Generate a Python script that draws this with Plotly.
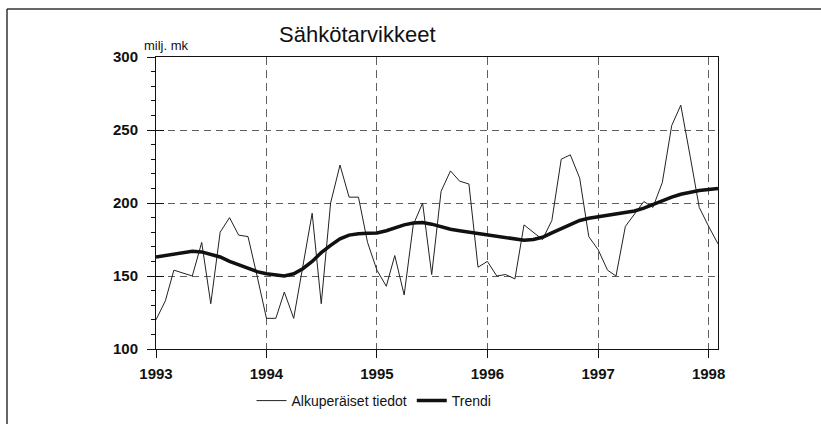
import pandas as pd
import plotly.graph_objects as go

# ---- data (monthly, Jan 1993 - Feb 1998) ----
months = pd.date_range("1993-01-01", periods=62, freq="MS")

original = [
    120, 133, 154, 152, 150, 173, 131, 180, 190, 178, 177, 150,   # 1993
    121, 121, 139, 121, 157, 193, 131, 200, 226, 204, 204, 173,   # 1994
    154, 143, 164, 137, 185, 200, 151, 208, 222, 215, 213, 156,   # 1995
    160, 150, 151, 148, 185, 180, 175, 188, 230, 233, 217, 177,   # 1996
    168, 154, 150, 184, 192, 201, 197, 214, 253, 267, 232, 197,   # 1997
    184, 172,                                                     # 1998
]

trend = [
    163, 164, 165.5, 166.5, 167, 166.5, 165, 163, 160, 157.5, 155, 153,
    151.5, 150.5, 150, 151.5, 155, 160, 166, 171, 175.5, 178, 179, 179.2,
    179.5, 181, 183, 185, 186.3, 186.6, 185.5, 183.5, 182, 181, 180, 179,
    178.4, 177.3, 176.1, 175, 174.5, 175, 176.5, 179.5, 182.5, 185, 188, 189.5,
    190.5, 191.5, 192.3, 193, 194.5, 196.5, 199, 201.5, 204, 206, 207.5, 208.5,
    209.3, 210,
]

series_names = ["Alkuperäiset tiedot", "Trendi"]
title_text = "Sähkötarvikkeet"
unit_text = "milj. mk"
year_ticks = ["1993", "1994", "1995", "1996", "1997", "1998"]
y_ticks = [100, 150, 200, 250, 300]

FONT = "Liberation Sans, Arial, sans-serif"

# plot-area geometry (pixels) used to place annotations in paper coordinates
L, R, T, B = 156, 718, 57, 349
PW, PH = R - L, B - T


def px(xp):
    return (xp - L) / PW


def py(yp):
    return (B - yp) / PH


fig = go.Figure()
fig.add_trace(go.Scatter(x=months, y=original, mode="lines", name=series_names[0],
                         line=dict(color="#222222", width=1)))
fig.add_trace(go.Scatter(x=months, y=trend, mode="lines", name=series_names[1],
                         line=dict(color="#111111", width=3.5)))
# invisible trace to carry the inner half of the major y ticks
fig.add_trace(go.Scatter(x=months[:1], y=[100], yaxis="y2", mode="none",
                         showlegend=False, hoverinfo="skip"))

fig.update_layout(
    width=821, height=424,
    margin=dict(l=L, r=821 - R, t=T, b=424 - B, autoexpand=False),
    paper_bgcolor="white", plot_bgcolor="white",
    font=dict(family=FONT, color="#111111"),
    showlegend=True,
    legend=dict(orientation="h", x=px(374), xanchor="center", y=py(401), yanchor="middle",
                font=dict(size=14, family=FONT), itemwidth=30, tracegroupgap=0,
                bgcolor="rgba(0,0,0,0)"),
    xaxis=dict(
        type="date", automargin=False,
        range=[months[0], months[-1]],
        tickvals=[pd.Timestamp(f"{y}-01-01") for y in year_ticks],
        ticktext=year_ticks,
        ticks="outside", ticklen=8, tickcolor="#111111", tickwidth=1,
        ticklabelstandoff=3,
        showline=True, linecolor="#111111", linewidth=1, mirror=True,
        showgrid=True, gridcolor="#606060", gridwidth=1, griddash="8px,5px",
        tickfont=dict(size=15, family=FONT, weight="bold"),
        zeroline=False,
    ),
    yaxis=dict(
        range=[100, 300], automargin=False,
        tickvals=y_ticks,
        ticks="outside", ticklen=8, tickcolor="#111111", tickwidth=1,
        ticklabelstandoff=6,
        minor=dict(dtick=10, ticks="outside", ticklen=4, tickcolor="#111111", showgrid=False),
        showline=True, linecolor="#111111", linewidth=1, mirror=True,
        showgrid=True, gridcolor="#606060", gridwidth=1, griddash="7px,5px",
        tickfont=dict(size=15, family=FONT, weight="bold"),
        zeroline=False,
    ),
    yaxis2=dict(
        overlaying="y", side="left", anchor="x", range=[100, 300], automargin=False,
        tickvals=y_ticks, ticks="inside", ticklen=8, tickcolor="#111111",
        showticklabels=False, showgrid=False, zeroline=False, showline=False,
    ),
)

fig.add_annotation(text=title_text, xref="paper", yref="paper",
                   x=px(357), y=py(35), xanchor="center", yanchor="middle",
                   showarrow=False, font=dict(size=22, family=FONT, color="#111111"))
fig.add_annotation(text=unit_text, xref="paper", yref="paper",
                   x=px(142), y=py(45), xanchor="left", yanchor="middle",
                   showarrow=False, font=dict(size=13, family=FONT, color="#111111"))

# outer frame: only its left and top edges are visible in the picture
frame = dict(color="#333333", width=1.5)
fig.add_shape(type="line", xref="paper", yref="paper",
              x0=px(7), x1=px(822), y0=py(9), y1=py(9), line=frame, layer="below")
fig.add_shape(type="line", xref="paper", yref="paper",
              x0=px(7), x1=px(7), y0=py(9), y1=py(425), line=frame, layer="below")

fig.write_html(
    "out.html",
    config={"displayModeBar": False},
    post_script="document.body.style.margin='0';document.body.style.overflow='hidden';",
)
